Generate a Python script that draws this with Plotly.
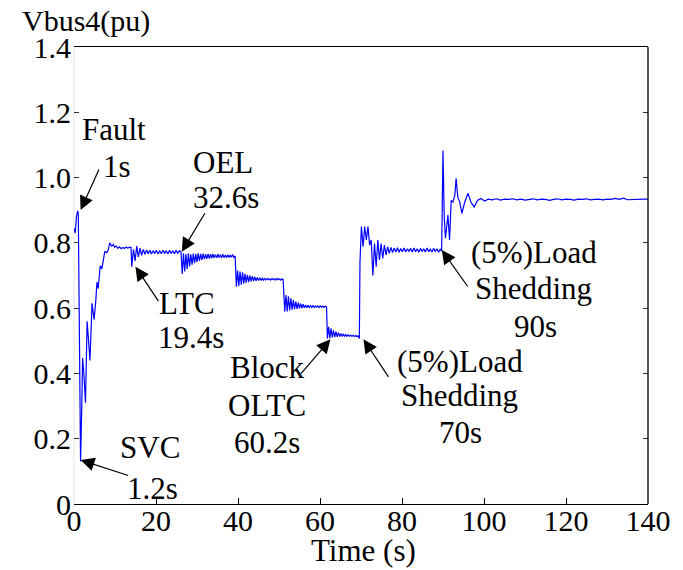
import plotly.graph_objects as go

# ---------------- data ----------------
# fault and recovery
t_fault = [0.0, 0.3, 0.6, 0.9, 1.05, 1.6, 1.9, 2.1, 2.4, 2.8, 3.2, 3.6, 3.9, 4.4, 4.9, 5.3, 5.6, 5.9,
           6.4, 6.8, 7.2, 7.5, 8.0, 8.4, 8.7, 9.2, 9.6, 9.9, 10.3, 10.7, 11.1, 11.5, 11.9, 12.3, 12.7,
           13.1, 13.5]
v_fault = [0.845, 0.83, 0.88, 0.898, 0.89, 0.13, 0.30, 0.447, 0.40, 0.31, 0.56, 0.50, 0.44, 0.615,
           0.565, 0.62, 0.68, 0.66, 0.73, 0.72, 0.745, 0.773, 0.77, 0.78, 0.80, 0.79, 0.795, 0.787,
           0.79, 0.783, 0.788, 0.782, 0.786, 0.783, 0.787, 0.784, 0.786]

# LTC action
t_ltc = [13.9, 14.1, 14.5, 14.9, 15.3, 15.7, 16.1, 16.5, 16.9, 17.3, 17.7, 18.1, 18.5, 18.9, 19.3,
         19.7, 20.1, 20.5, 20.9, 21.3, 21.7, 22.1, 22.5, 22.9, 23.3, 23.7, 24.1, 24.5, 24.9, 25.3,
         25.7, 26.1]
v_ltc = [0.786, 0.727, 0.780, 0.745, 0.790, 0.757, 0.784, 0.762, 0.780, 0.765, 0.778, 0.767, 0.777,
         0.766, 0.776, 0.768, 0.777, 0.766, 0.775, 0.767, 0.777, 0.768, 0.776, 0.766, 0.777, 0.768,
         0.775, 0.767, 0.777, 0.768, 0.776, 0.772]

# OEL action
t_oel = [26.4, 26.7, 27.0, 27.3, 27.6, 27.9, 28.2, 28.5, 28.8, 29.1, 29.4, 29.7, 30.0, 30.3, 30.6,
         30.9, 31.2, 31.5, 31.8, 32.1, 32.4, 32.7, 33.0, 33.3, 33.6, 33.9, 34.2, 34.5, 34.8, 35.1,
         35.4, 35.7, 36.0, 36.3, 36.6, 36.9, 37.2, 37.5, 37.8, 38.1, 38.4, 38.7, 39.0, 39.3]
v_oel = [0.705, 0.768, 0.712, 0.766, 0.720, 0.768, 0.728, 0.765, 0.733, 0.767, 0.738, 0.766, 0.742,
         0.768, 0.745, 0.766, 0.748, 0.767, 0.750, 0.765, 0.751, 0.766, 0.752, 0.765, 0.753, 0.766,
         0.754, 0.764, 0.754, 0.765, 0.755, 0.764, 0.754, 0.765, 0.755, 0.763, 0.754, 0.764, 0.755,
         0.763, 0.756, 0.764, 0.755, 0.760]

# tap step 1
t_step1 = [39.6, 39.9, 40.2, 40.5, 40.8, 41.1, 41.4, 41.7, 42.0, 42.3, 42.6, 42.9, 43.2, 43.5, 43.8,
           44.1, 44.4, 44.7, 45.0, 45.3, 45.6, 45.9, 46.2, 46.5, 46.8, 47.1, 47.4, 47.7, 48.0, 48.3,
           48.6, 48.9, 49.2, 49.5, 49.8, 50.1, 50.4, 50.7, 51.0]
v_step1 = [0.666, 0.715, 0.668, 0.712, 0.672, 0.710, 0.675, 0.705, 0.678, 0.702, 0.680, 0.700, 0.682,
           0.698, 0.683, 0.696, 0.684, 0.694, 0.685, 0.693, 0.685, 0.692, 0.686, 0.691, 0.686, 0.691,
           0.687, 0.690, 0.686, 0.691, 0.687, 0.690, 0.686, 0.691, 0.687, 0.690, 0.686, 0.690, 0.688]

# tap step 2
t_step2 = [51.4, 51.7, 52.0, 52.3, 52.6, 52.9, 53.2, 53.5, 53.8, 54.1, 54.4, 54.7, 55.0, 55.3, 55.6,
           55.9, 56.2, 56.5, 56.8, 57.1, 57.4, 57.7, 58.0, 58.3, 58.6, 58.9, 59.2, 59.5, 59.8, 60.1,
           60.4, 60.7, 61.0, 61.3, 61.6]
v_step2 = [0.589, 0.640, 0.590, 0.636, 0.593, 0.630, 0.595, 0.625, 0.597, 0.620, 0.598, 0.617, 0.599,
           0.614, 0.600, 0.612, 0.601, 0.610, 0.601, 0.609, 0.602, 0.608, 0.602, 0.608, 0.602, 0.607,
           0.603, 0.607, 0.602, 0.607, 0.603, 0.606, 0.602, 0.606, 0.604]

# tap step 3 (OLTC then blocked)
t_step3 = [61.8, 62.1, 62.4, 62.7, 63.0, 63.3, 63.6, 63.9, 64.2, 64.5, 64.8, 65.1, 65.4, 65.7, 66.0,
           66.3, 66.6, 66.9, 67.2, 67.5, 67.8, 68.1, 68.4, 68.7, 69.0, 69.3, 69.6]
v_step3 = [0.507, 0.543, 0.508, 0.538, 0.510, 0.532, 0.511, 0.528, 0.512, 0.525, 0.513, 0.522, 0.513,
           0.520, 0.514, 0.519, 0.514, 0.518, 0.514, 0.517, 0.514, 0.517, 0.513, 0.516, 0.513, 0.515,
           0.507]

# first 5% load shedding (70 s)
t_shed1 = [69.75, 70.1, 70.5, 70.9, 71.3, 71.7, 72.1, 72.5, 72.9, 73.3, 73.7, 74.1, 74.5, 74.9,
           75.3, 75.7, 76.1, 76.5, 76.9, 77.3, 77.7, 78.1, 78.5, 78.9, 79.3, 79.7, 80.1, 80.5, 80.9,
           81.3, 81.7, 82.1, 82.5, 82.9, 83.3, 83.7, 84.1, 84.5, 84.9, 85.3, 85.7, 86.1, 86.5, 86.9,
           87.3, 87.7, 88.1, 88.5, 88.9, 89.3, 89.65]
v_shed1 = [0.74, 0.85, 0.788, 0.85, 0.809, 0.85, 0.793, 0.809, 0.70, 0.798, 0.727, 0.809, 0.748,
           0.798, 0.752, 0.793, 0.763, 0.788, 0.768, 0.786, 0.770, 0.784, 0.772, 0.785, 0.771, 0.783,
           0.773, 0.784, 0.772, 0.782, 0.774, 0.783, 0.772, 0.784, 0.773, 0.782, 0.771, 0.783, 0.774,
           0.782, 0.772, 0.784, 0.773, 0.781, 0.772, 0.783, 0.774, 0.782, 0.771, 0.780, 0.775]

# second 5% load shedding (90 s)
t_shed2 = [89.7, 90.0, 90.3, 90.6, 90.9, 91.2, 91.6, 92.0, 92.4, 92.9, 93.2, 93.6, 94.1, 94.6, 95.3,
           96.1, 96.8, 97.6, 98.4, 99.2, 100.2]
v_shed2 = [0.80, 1.083, 0.88, 0.814, 0.86, 0.885, 0.809, 0.93, 0.925, 0.947, 0.998, 0.94, 0.925,
           0.89, 0.925, 0.952, 0.925, 0.91, 0.93, 0.936, 0.928]

# final steady state
t_final = [101, 102, 103, 104, 105, 106, 107, 108, 109, 110, 111, 112, 113, 114, 115, 116, 117, 118,
           119, 120, 121, 122, 123, 124, 125, 126, 127, 128, 129, 130, 131, 132, 133, 134, 135, 136,
           137, 138, 139, 140]
v_final = [0.934, 0.932, 0.935, 0.931, 0.934, 0.933, 0.935, 0.932, 0.934, 0.931,
           0.933, 0.935, 0.932, 0.934, 0.933, 0.930, 0.933, 0.935, 0.932, 0.934,
           0.933, 0.931, 0.934, 0.933, 0.935, 0.932, 0.933, 0.934, 0.932, 0.934,
           0.933, 0.936, 0.933, 0.937, 0.932, 0.933, 0.934, 0.933, 0.934, 0.934]

x_ticks = [0, 20, 40, 60, 80, 100, 120, 140]
x_tick_text = ["0", "20", "40", "60", "80", "100", "120", "140"]
y_ticks = [0, 0.2, 0.4, 0.6, 0.8, 1.0, 1.2, 1.4]
y_tick_text = ["0", "0.2", "0.4", "0.6", "0.8", "1.0", "1.2", "1.4"]

segments = [(t_fault, v_fault), (t_ltc, v_ltc), (t_oel, v_oel), (t_step1, v_step1),
            (t_step2, v_step2), (t_step3, v_step3), (t_shed1, v_shed1), (t_shed2, v_shed2),
            (t_final, v_final)]
time, vbus = [], []
for ts, vs in segments:
    assert len(ts) == len(vs), (len(ts), len(vs))
    time += ts
    vbus += vs

# ---------------- figure ----------------
W, H = 683, 570
SX0, SX1, SY0, SY1 = 74, 653, 47, 504   # plot area in the picture
PW, PH = SX1 - SX0, SY1 - SY0
L, T, R, B = SX0, SY0, W - SX1, H - SY1
XMAX, YMAX = 140, 1.4


def to_data(px, py):
    return ((px - SX0) / PW * XMAX, (SY1 - py) / PH * YMAX)


FONT = "Liberation Serif"

fig = go.Figure()
fig.add_trace(go.Scatter(x=time, y=vbus, mode="lines",
                         line=dict(color="#0000ff", width=1.2), hoverinfo="skip",
                         showlegend=False))

annotations = []
# arrows: (tip px, tip py, tail dx, tail dy)
arrows = [(80.7, 210, 19, -42), (80.7, 460, 49, 16), (182.7, 251.7, 24, -40),
          (136, 266.7, 24, 36), (332.7, 339.3, -31, 36), (366, 339.3, 26, 39),
          (445, 250, 27, 38)]
for px, py, dx, dy in arrows:
    x, y = to_data(px, py)
    annotations.append(dict(x=x, y=y, xref="x", yref="y", ax=dx, ay=dy, text="",
                            showarrow=True, arrowhead=2, arrowsize=2.3, arrowwidth=1.2,
                            arrowcolor="black", standoff=0))

labels = [("Fault", 114, 129), ("1s", 117.5, 166), ("SVC", 151, 447), ("1.2s", 153, 488),
          ("OEL", 224, 162), ("32.6s", 227, 197), ("LTC", 188, 303), ("19.4s", 192, 337),
          ("Block", 269, 367), ("OLTC", 269, 405), ("60.2s", 269, 442),
          ("(5%)Load", 463, 361), ("Shedding", 463, 395), ("70s", 464, 432),
          ("(5%)Load", 538, 252), ("Shedding", 538, 288), ("90s", 540, 326)]
for txt, px, py in labels:
    x, y = to_data(px, py)
    annotations.append(dict(x=x, y=y, xref="x", yref="y", text=txt, showarrow=False,
                            xanchor="center", yanchor="middle",
                            font=dict(family=FONT, size=31, color="black")))

annotations.append(dict(x=(20 - SX0) / PW, y=(SY1 - 21) / PH, xref="paper", yref="paper",
                        text="Vbus4(pu)", showarrow=False, xanchor="left", yanchor="middle",
                        font=dict(family=FONT, size=30, color="black")))
annotations.append(dict(x=(366 - SX0) / PW, y=(SY1 - 550) / PH, xref="paper", yref="paper",
                        text="Time (s)", showarrow=False, xanchor="center", yanchor="middle",
                        font=dict(family=FONT, size=31, color="black")))

shapes = [
    dict(type="line", xref="paper", yref="paper", x0=1, x1=1, y0=0, y1=1,
         line=dict(color="black", width=1.3)),
    dict(type="line", xref="paper", yref="paper", x0=0, x1=0, y0=0, y1=1,
         line=dict(color="#e4e4e4", width=1), layer="below"),
]

fig.update_layout(
    width=W, height=H,
    margin=dict(l=L, r=R, t=T, b=B, pad=0),
    paper_bgcolor="white", plot_bgcolor="white",
    font=dict(family=FONT, size=30, color="black"),
    annotations=annotations, shapes=shapes,
    xaxis=dict(range=[0, XMAX], tickvals=x_ticks, ticktext=x_tick_text, ticks="inside",
               ticklen=6, tickwidth=1, tickcolor="black", showline=True, linecolor="black",
               linewidth=1.3, mirror=True, showgrid=False, zeroline=False,
               ticklabelstandoff=-10, tickfont=dict(family=FONT, size=30)),
    yaxis=dict(range=[0, YMAX], tickvals=y_ticks, ticktext=y_tick_text, ticks="inside",
               ticklen=5, tickwidth=1, tickcolor="#333333", showline=False,
               mirror="ticks", showgrid=False, zeroline=False,
               ticklabelstandoff=2, tickfont=dict(family=FONT, size=30)),
)

# remove the browser's default page margin so the figure fills the window exactly
fig.write_html("out.html", config={"displayModeBar": False},
               post_script="document.body.style.margin='0';document.body.style.overflow='hidden';")
